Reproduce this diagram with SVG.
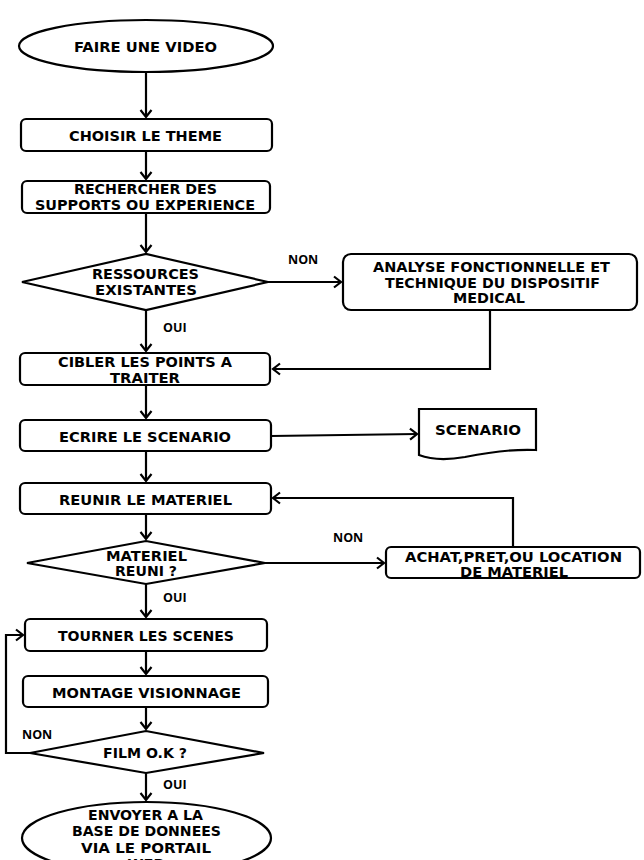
<svg xmlns="http://www.w3.org/2000/svg" width="644" height="860" viewBox="0 0 644 860">
<style>
.s{fill:#fff;stroke:#000;stroke-width:2.2}
.t{font-family:"DejaVu Sans",Verdana,sans-serif;font-weight:bold;font-size:14.5px;text-anchor:middle;fill:#000}
.l{font-family:"Open Sans","Liberation Sans",sans-serif;font-weight:bold;font-size:12.5px;fill:#000}
.c{fill:none;stroke:#000;stroke-width:2.2}
</style>
<defs>
<marker id="a" markerWidth="12" markerHeight="14" refX="10" refY="7" orient="auto" markerUnits="userSpaceOnUse">
<path d="M3,1.5 L10,7 L3,12.5" fill="none" stroke="#000" stroke-width="2.2"/>
</marker>
</defs>
<rect width="644" height="860" fill="#fff"/>
<g id="connectors">
<path class="c" d="M146,72 V117" marker-end="url(#a)"/>
<path class="c" d="M146,151 V179" marker-end="url(#a)"/>
<path class="c" d="M146,213 V252" marker-end="url(#a)"/>
<path class="c" d="M268,282 H341" marker-end="url(#a)"/>
<path class="c" d="M490,310 V369 H273" marker-end="url(#a)"/>
<path class="c" d="M146,310 V351" marker-end="url(#a)"/>
<path class="c" d="M146,385 V418" marker-end="url(#a)"/>
<path class="c" d="M271,436 L417,434" marker-end="url(#a)"/>
<path class="c" d="M146,451 V481" marker-end="url(#a)"/>
<path class="c" d="M513,547 V498 H273" marker-end="url(#a)"/>
<path class="c" d="M146,514 V539" marker-end="url(#a)"/>
<path class="c" d="M265,563 H384" marker-end="url(#a)"/>
<path class="c" d="M146,584 V617" marker-end="url(#a)"/>
<path class="c" d="M146,651 V674" marker-end="url(#a)"/>
<path class="c" d="M146,707 V729" marker-end="url(#a)"/>
<path class="c" d="M30,753 H6 V635 H23" marker-end="url(#a)"/>
<path class="c" d="M146,773 V800" marker-end="url(#a)"/>
<text class="l" x="288" y="264">NON</text>
<text class="l" x="163" y="332">OUI</text>
<text class="l" x="333" y="542">NON</text>
<text class="l" x="163" y="602">OUI</text>
<text class="l" x="22" y="739">NON</text>
<text class="l" x="163" y="789">OUI</text>
</g>
<g id="start">
<ellipse class="s" cx="146" cy="46" rx="127" ry="26"/>
<text class="t" x="145.5" y="52" textLength="143" lengthAdjust="spacingAndGlyphs">FAIRE UNE VIDEO</text>
</g>
<g id="choisir">
<rect class="s" x="21" y="119" width="251" height="32" rx="5"/>
<text class="t" x="145.5" y="140.5" textLength="153" lengthAdjust="spacingAndGlyphs">CHOISIR LE THEME</text>
</g>
<g id="rechercher">
<rect class="s" x="22" y="181" width="248" height="32" rx="5"/>
<text class="t" x="145.5" y="194" textLength="143" lengthAdjust="spacingAndGlyphs">RECHERCHER DES</text>
<text class="t" x="145" y="210" textLength="220" lengthAdjust="spacingAndGlyphs">SUPPORTS OU EXPERIENCE</text>
</g>
<g id="ressources">
<polygon class="s" points="22,282 146,254 268,282 146,310"/>
<text class="t" x="145.5" y="279" textLength="107" lengthAdjust="spacingAndGlyphs">RESSOURCES</text>
<text class="t" x="146" y="295" textLength="102" lengthAdjust="spacingAndGlyphs">EXISTANTES</text>
</g>
<g id="analyse">
<rect class="s" x="343" y="254" width="294" height="56" rx="8"/>
<text class="t" x="491.5" y="272" textLength="237" lengthAdjust="spacingAndGlyphs">ANALYSE FONCTIONNELLE ET</text>
<text class="t" x="492.5" y="288" textLength="215" lengthAdjust="spacingAndGlyphs">TECHNIQUE DU DISPOSITIF</text>
<text class="t" x="489" y="303" textLength="72" lengthAdjust="spacingAndGlyphs">MEDICAL</text>
</g>
<g id="cibler">
<rect class="s" x="20" y="353" width="250" height="32" rx="5"/>
<text class="t" x="145" y="367" textLength="174" lengthAdjust="spacingAndGlyphs">CIBLER LES POINTS A</text>
<text class="t" x="145" y="383" textLength="70" lengthAdjust="spacingAndGlyphs">TRAITER</text>
</g>
<g id="ecrire">
<rect class="s" x="20" y="420" width="251" height="31" rx="5"/>
<text class="t" x="145" y="442" textLength="172" lengthAdjust="spacingAndGlyphs">ECRIRE LE SCENARIO</text>
</g>
<g id="scenario">
<path class="s" d="M419,409 H536 V450 C515,449 490,452 465,457 C448,460 432,460 419,455 Z"/>
<text class="t" x="478" y="435" textLength="86" lengthAdjust="spacingAndGlyphs">SCENARIO</text>
</g>
<g id="reunir">
<rect class="s" x="20" y="483" width="251" height="31" rx="5"/>
<text class="t" x="145.5" y="504.5" textLength="173" lengthAdjust="spacingAndGlyphs">REUNIR LE MATERIEL</text>
</g>
<g id="materiel">
<polygon class="s" points="27,563 146,541 265,563 146,584"/>
<text class="t" x="146.5" y="561" textLength="81" lengthAdjust="spacingAndGlyphs">MATERIEL</text>
<text class="t" x="146" y="576" textLength="62" lengthAdjust="spacingAndGlyphs">REUNI ?</text>
</g>
<g id="achat">
<rect class="s" x="386" y="547" width="254" height="31" rx="5"/>
<text class="t" x="513.5" y="562" textLength="217" lengthAdjust="spacingAndGlyphs">ACHAT,PRET,OU LOCATION</text>
<text class="t" x="514" y="577" textLength="108" lengthAdjust="spacingAndGlyphs">DE MATERIEL</text>
</g>
<g id="tourner">
<rect class="s" x="25" y="619" width="242" height="32" rx="5"/>
<text class="t" x="146" y="641" textLength="176" lengthAdjust="spacingAndGlyphs">TOURNER LES SCENES</text>
</g>
<g id="montage">
<rect class="s" x="23" y="676" width="245" height="31" rx="5"/>
<text class="t" x="146.5" y="698" textLength="189" lengthAdjust="spacingAndGlyphs">MONTAGE VISIONNAGE</text>
</g>
<g id="film">
<polygon class="s" points="30,753 146,731 264,753 146,773"/>
<text class="t" x="145" y="758" textLength="84" lengthAdjust="spacingAndGlyphs">FILM O.K ?</text>
</g>
<g id="end">
<ellipse class="s" cx="146.5" cy="838" rx="124.5" ry="36"/>
<text class="t" x="145.5" y="820" textLength="115" lengthAdjust="spacingAndGlyphs">ENVOYER A LA</text>
<text class="t" x="146.5" y="836" textLength="149" lengthAdjust="spacingAndGlyphs">BASE DE DONNEES</text>
<text class="t" x="146" y="853" textLength="130" lengthAdjust="spacingAndGlyphs">VIA LE PORTAIL</text>
<text class="t" x="146" y="869">WEB</text>
</g>
</svg>
